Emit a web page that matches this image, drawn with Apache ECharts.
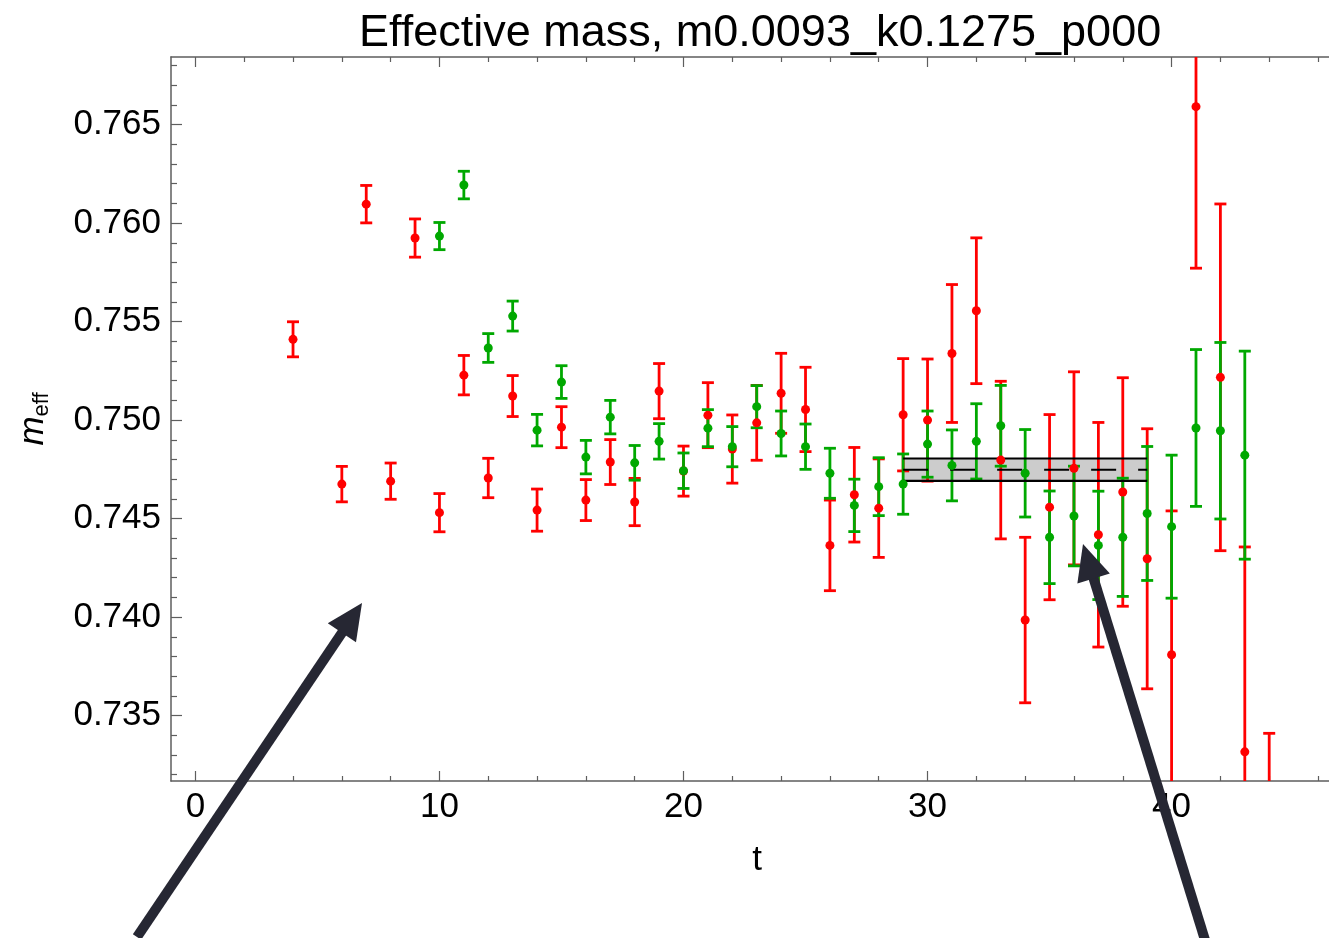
<!DOCTYPE html>
<html>
<head>
<meta charset="utf-8">
<script src="https://cdn.jsdelivr.net/npm/echarts@6/dist/echarts.min.js"></script>
<style>
html,body{margin:0;padding:0;background:#fff;}
#chart{width:1329px;height:938px;}
</style>
</head>
<body>
<div id="chart"></div>
<script>
// ---- data ----
const redT = [4,6,7,8,9,10,11,12,13,14,15,16,17,18,19,20,21,22,23,24,25,26,27,28,29,30,31,32,33,34,35,36,37,38,39,40,41,42,43,44];
const redVal = [0.75410,0.74675,0.76096,0.74690,0.75924,0.74530,0.75228,0.74706,0.75122,0.74543,0.74964,0.74594,0.74787,0.74584,0.75147,0.74741,0.75025,0.74853,0.74986,0.75136,0.75054,0.74364,0.74621,0.74553,0.75027,0.75000,0.75338,0.75555,0.74797,0.73985,0.74558,0.74755,0.74418,0.74635,0.74296,0.73809,0.76591,0.75217,0.73316,0.72310];
const redErr = [0.00089,0.00090,0.00095,0.00092,0.00097,0.00097,0.00100,0.00100,0.00104,0.00107,0.00104,0.00104,0.00114,0.00120,0.00140,0.00127,0.00165,0.00173,0.00190,0.00203,0.00214,0.00230,0.00240,0.00250,0.00285,0.00310,0.00350,0.00370,0.00400,0.00420,0.00470,0.00490,0.00570,0.00580,0.00660,0.00730,0.00820,0.00880,0.01040,0.01100];

const greenT = [10,11,12,13,14,15,16,17,18,19,20,21,22,23,24,25,26,27,28,29,30,31,32,33,34,35,36,37,38,39,40,41,42,43];
const greenVal = [0.75934,0.76193,0.75366,0.75528,0.74949,0.75193,0.74812,0.75015,0.74783,0.74892,0.74743,0.74959,0.74865,0.75068,0.74932,0.74865,0.74730,0.74567,0.74662,0.74675,0.74878,0.74770,0.74892,0.74971,0.74730,0.74405,0.74513,0.74364,0.74405,0.74526,0.74459,0.74960,0.74946,0.74822];
const greenErr = [0.00069,0.00070,0.00073,0.00076,0.00080,0.00083,0.00085,0.00085,0.00088,0.00090,0.00090,0.00094,0.00102,0.00107,0.00114,0.00115,0.00127,0.00133,0.00147,0.00153,0.00168,0.00180,0.00191,0.00205,0.00222,0.00235,0.00253,0.00275,0.00300,0.00340,0.00363,0.00398,0.00448,0.00528];

// fit band
const fitRange = [29, 39];
const fitCenter = 0.74748;
const fitErr = 0.00057;

// axis ticks
const xMajorTicks = [0,10,20,30,40];
const yMajorTicks = [0.735,0.740,0.745,0.750,0.755,0.760,0.765];
const xRange = [-1, 46.45];
const yRange = [0.73168, 0.76843];

const xMinorTicks = [];
for (let v = 2; v <= 46; v += 2) if (v % 10 !== 0) xMinorTicks.push(v);
const yMinorTicks = [];
for (let k = 732; k <= 768; k++) if (k % 5 !== 0) yMinorTicks.push(k / 1000);

// ---- styling ----
const RED = '#ff0000';
const GREEN = '#00a800';
const AXIS = '#5e5e5e';
const FONT = 'Liberation Sans, Arial, sans-serif';
const ARROW = '#262733';

function tri(t, v, e) { return t.map((x, i) => [x, v[i], e[i]]); }

function errRender(color) {
  return function (params, api) {
    const t = api.value(0), v = api.value(1), e = api.value(2);
    const top = api.coord([t, v + e]);
    const bot = api.coord([t, v - e]);
    const hw = 6;
    const st = { stroke: color, lineWidth: 2.8 };
    return {
      type: 'group',
      children: [
        { type: 'line', shape: { x1: top[0], y1: top[1], x2: bot[0], y2: bot[1] }, style: st },
        { type: 'line', shape: { x1: top[0] - hw, y1: top[1], x2: top[0] + hw, y2: top[1] }, style: st },
        { type: 'line', shape: { x1: bot[0] - hw, y1: bot[1], x2: bot[0] + hw, y2: bot[1] }, style: st }
      ]
    };
  };
}

function arrow(tail, tip) {
  const dx = tip[0] - tail[0], dy = tip[1] - tail[1];
  const L = Math.hypot(dx, dy);
  const ux = dx / L, uy = dy / L;
  const hl = 36, hw = 17;
  const bx = tip[0] - ux * hl, by = tip[1] - uy * hl;
  const px = -uy, py = ux;
  return [
    { type: 'line', z: 100, shape: { x1: tail[0], y1: tail[1], x2: bx + ux * 2, y2: by + uy * 2 }, style: { stroke: ARROW, lineWidth: 10 } },
    { type: 'polygon', z: 100, shape: { points: [tip, [bx + px * hw, by + py * hw], [bx - px * hw, by - py * hw]] }, style: { fill: ARROW } }
  ];
}

const baseX = { type: 'value', min: xRange[0], max: xRange[1], splitLine: { show: false } };
const baseY = { type: 'value', min: yRange[0], max: yRange[1], splitLine: { show: false } };
const lineOn = { show: true, onZero: false, lineStyle: { color: AXIS, width: 1.5 } };
const lineOff = { show: false, onZero: false };

const option = {
  animation: false,
  backgroundColor: '#fff',
  title: {
    text: 'Effective mass, m0.0093_k0.1275_p000',
    left: 354, top: 6,
    textStyle: { fontFamily: FONT, fontSize: 45, fontWeight: 'normal', color: '#000' }
  },
  grid: { left: 171, right: 0, top: 57, bottom: 157, containLabel: false },
  xAxis: [
    Object.assign({}, baseX, {
      position: 'bottom',
      name: 't', nameLocation: 'middle', nameGap: 62,
      nameTextStyle: { fontFamily: FONT, fontSize: 35, color: '#000', padding: [0, 0, 0, 14] },
      axisLine: lineOn,
      axisTick: { show: true, inside: true, length: 10, customValues: xMajorTicks, lineStyle: { color: AXIS, width: 1.2 } },
      axisLabel: { show: true, customValues: xMajorTicks, margin: 9, fontFamily: FONT, fontSize: 35, color: '#000' }
    }),
    Object.assign({}, baseX, {
      position: 'bottom',
      axisLine: lineOff,
      axisTick: { show: true, inside: true, length: 5, customValues: xMinorTicks, lineStyle: { color: AXIS, width: 1.2 } },
      axisLabel: { show: false }
    }),
    Object.assign({}, baseX, {
      position: 'top',
      axisLine: lineOn,
      axisTick: { show: true, inside: true, length: 10, customValues: xMajorTicks, lineStyle: { color: AXIS, width: 1.2 } },
      axisLabel: { show: false }
    }),
    Object.assign({}, baseX, {
      position: 'top',
      axisLine: lineOff,
      axisTick: { show: true, inside: true, length: 5, customValues: xMinorTicks, lineStyle: { color: AXIS, width: 1.2 } },
      axisLabel: { show: false }
    })
  ],
  yAxis: [
    Object.assign({}, baseY, {
      position: 'left',
      name: '{m|m}{s|eff}', nameLocation: 'middle', nameGap: 118, nameRotate: 90,
      nameTextStyle: {
        fontFamily: FONT, color: '#000',
        rich: {
          m: { fontFamily: FONT, fontSize: 35, fontStyle: 'italic', color: '#000', lineHeight: 40 },
          s: { fontFamily: FONT, fontSize: 22, color: '#000', lineHeight: 40, verticalAlign: 'bottom', padding: [12, 0, 0, 0] }
        }
      },
      axisLine: lineOn,
      axisTick: { show: true, inside: true, length: 11, customValues: yMajorTicks, lineStyle: { color: AXIS, width: 1.2 } },
      axisLabel: {
        show: true, customValues: yMajorTicks, margin: 10,
        fontFamily: FONT, fontSize: 35, color: '#000',
        formatter: v => v.toFixed(3)
      }
    }),
    Object.assign({}, baseY, {
      position: 'left',
      axisLine: lineOff,
      axisTick: { show: true, inside: true, length: 6, customValues: yMinorTicks, lineStyle: { color: AXIS, width: 1.2 } },
      axisLabel: { show: false }
    })
  ],
  series: [
    {
      type: 'custom', name: 'fitband', z: 1, clip: true,
      data: [[fitRange[0], fitRange[1], fitCenter, fitErr]],
      renderItem: function (params, api) {
        const t0 = api.value(0), t1 = api.value(1), c = api.value(2), e = api.value(3);
        const a = api.coord([t0, c + e]), b = api.coord([t1, c - e]);
        return {
          type: 'rect',
          shape: { x: a[0], y: a[1], width: b[0] - a[0], height: b[1] - a[1] },
          style: { fill: '#cccccc' }
        };
      },
      encode: { x: [0, 1], y: 2 }
    },
    {
      type: 'custom', name: 'redErr', z: 2, clip: true,
      data: tri(redT, redVal, redErr), renderItem: errRender(RED), encode: { x: 0, y: 1 }
    },
    {
      type: 'custom', name: 'greenErr', z: 3, clip: true,
      data: tri(greenT, greenVal, greenErr), renderItem: errRender(GREEN), encode: { x: 0, y: 1 }
    },
    {
      type: 'custom', name: 'fitlines', z: 4, clip: true,
      data: [[fitRange[0], fitRange[1], fitCenter, fitErr]],
      renderItem: function (params, api) {
        const t0 = api.value(0), t1 = api.value(1), c = api.value(2), e = api.value(3);
        const up0 = api.coord([t0, c + e]), up1 = api.coord([t1, c + e]);
        const lo0 = api.coord([t0, c - e]), lo1 = api.coord([t1, c - e]);
        const m0 = api.coord([t0, c]), m1 = api.coord([t1, c]);
        const st = { stroke: '#000', lineWidth: 2.2 };
        return {
          type: 'group',
          children: [
            { type: 'line', shape: { x1: up0[0], y1: up0[1], x2: up1[0], y2: up1[1] }, style: st },
            { type: 'line', shape: { x1: lo0[0], y1: lo0[1], x2: lo1[0], y2: lo1[1] }, style: st },
            { type: 'line', shape: { x1: m0[0], y1: m0[1], x2: m1[0], y2: m1[1] }, style: { stroke: '#000', lineWidth: 2.2, lineDash: [25, 22] } }
          ]
        };
      },
      encode: { x: [0, 1], y: 2 }
    },
    {
      type: 'scatter', name: 'red', z: 5, clip: true,
      data: redT.map((t, i) => [t, redVal[i]]),
      symbol: 'circle', symbolSize: 9, itemStyle: { color: RED, opacity: 1 }
    },
    {
      type: 'scatter', name: 'green', z: 6, clip: true,
      data: greenT.map((t, i) => [t, greenVal[i]]),
      symbol: 'circle', symbolSize: 9, itemStyle: { color: GREEN, opacity: 1 }
    }
  ],
  graphic: [].concat(arrow([137, 937], [362, 603]), arrow([1205, 940], [1083, 544]))
};

const chart = echarts.init(document.getElementById('chart'), null, { renderer: 'canvas' });
chart.setOption(option);
</script>
</body>
</html>
